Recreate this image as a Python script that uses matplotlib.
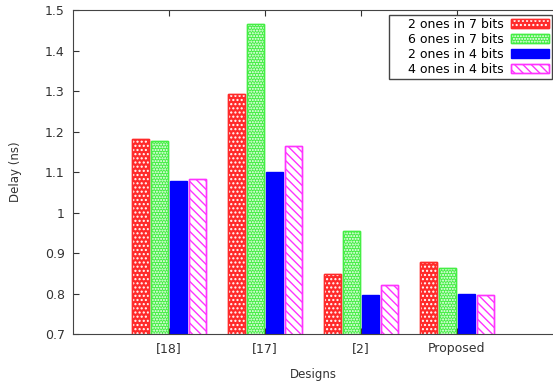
import matplotlib
matplotlib.use("Agg")
import matplotlib.pyplot as plt
from matplotlib.legend_handler import HandlerTuple
import numpy as np

plt.rcParams['hatch.linewidth'] = 1.0

designs = ["[18]", "[17]", "[2]", "Proposed"]
series = ["2 ones in 7 bits", "6 ones in 7 bits", "2 ones in 4 bits", "4 ones in 4 bits"]
two_of_7 = [1.182, 1.292, 0.847, 0.877]
six_of_7 = [1.177, 1.465, 0.954, 0.864]
two_of_4 = [1.078, 1.099, 0.796, 0.799]
four_of_4 = [1.082, 1.164, 0.821, 0.797]

values = [two_of_7, six_of_7, two_of_4, four_of_4]
edges = ["#ff2a2a", "#44ee44", "#0000ff", "#ff33ff"]
faces = ["#ff2a2a", "#44ee44", "#0000ff", "white"]
# hatch drawn over the face: (pattern, colour)
overlay = [("....", "white"), ("......", "white"), (None, None), ("\\\\\\\\", "#ff33ff")]

fig = plt.figure(figsize=(5.53, 3.81), dpi=100)
ax = fig.add_axes([0.132, 0.1234, 0.868, 0.850])

x = np.arange(1, len(designs) + 1)
w = 0.18
step = 0.2
handles = []
for i in range(len(series)):
    pos = x + (i - 1.5) * step
    base = ax.bar(pos, values[i], w, color=faces[i], edgecolor=edges[i], linewidth=1.0)
    h = [base]
    pat, col = overlay[i]
    if pat:
        top = ax.bar(pos, values[i], w, color='none', edgecolor=col, hatch=pat, linewidth=0)
        edge = ax.bar(pos, values[i], w, color='none', edgecolor=edges[i], linewidth=1.0)
        h = [base, top, edge]
    handles.append(tuple(h))

ax.set_xlim(0, 5)
ax.set_ylim(0.7, 1.5)
ax.set_xticks(x)
ax.set_xticklabels(designs)
ax.set_yticks(np.arange(0.7, 1.51, 0.1))
ax.set_yticklabels(["0.7", "0.8", "0.9", "1", "1.1", "1.2", "1.3", "1.4", "1.5"])
ax.tick_params(direction='in', top=True, right=False, labelsize=9, colors='#333333',
               length=4, pad=6)
ax.spines['right'].set_visible(False)
for s in ['left', 'top', 'bottom']:
    ax.spines[s].set_color('#444444')
ax.set_xlabel("Designs", fontsize=8.5, color='#333333', labelpad=9)
ax.set_ylabel("Delay (ns)", fontsize=8.5, color='#333333', labelpad=16)

labels = ["    " + s for s in series]
leg = ax.legend(handles, labels, loc='upper right', fontsize=9, markerfirst=False, fancybox=False,
                bbox_to_anchor=(552 / 553, 1 - 15 / 381), bbox_transform=fig.transFigure,
                edgecolor='#444444', framealpha=1, borderaxespad=0,
                handlelength=3.0, handleheight=0.7, labelspacing=0.15,
                borderpad=0.25, handletextpad=0.6,
                handler_map={tuple: HandlerTuple(ndivide=1, pad=0)})
leg.get_frame().set_linewidth(1.0)

fig.savefig("out.png", dpi=100)
